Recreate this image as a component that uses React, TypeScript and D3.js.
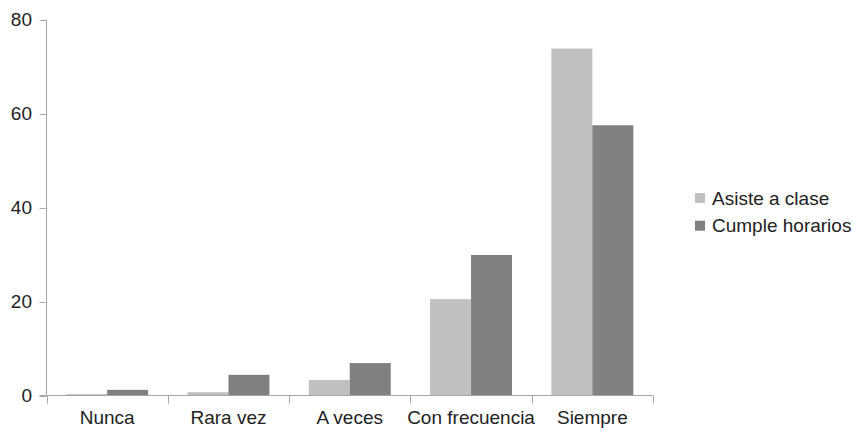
import React, { useEffect, useRef } from "react";
import * as d3 from "d3";

const categories = ["Nunca", "Rara vez", "A veces", "Con frecuencia", "Siempre"];
const seriesNames = ["Asiste a clase", "Cumple horarios"];
const asiste = [0.3, 0.7, 3.3, 20.5, 73.8];
const cumple = [1.2, 4.4, 6.9, 29.9, 57.5];
const yTicks = [0, 20, 40, 60, 80];
const colors = ["#c0c0c0", "#808080"];

export default function App() {
  const ref = useRef<SVGSVGElement>(null);
  useEffect(() => {
    const svg = d3.select(ref.current);
    svg.selectAll("*").remove();
    const left = 46.5, right = 653, top = 19.5, bottom = 395.5;
    const x = d3.scaleBand<string>().domain(categories).range([left, right]).paddingInner(0).paddingOuter(0);
    const y = d3.scaleLinear().domain([0, 80]).range([bottom, top]);
    const inner = d3.scaleBand<number>().domain([0, 1]).range([0, x.bandwidth()]).paddingOuter(0.48).paddingInner(0);
    const axisColor = "#a6a6a6";
    const font = "'Liberation Sans', Arial, sans-serif";
    const fs = 19;
    const series = [asiste, cumple];

    series.forEach((vals, si) => {
      svg.append("g").selectAll("rect").data(vals).join("rect")
        .attr("x", (_d, i) => (x(categories[i]) as number) + (inner(si) as number))
        .attr("width", inner.bandwidth())
        .attr("y", (d) => y(d))
        .attr("height", (d) => bottom - y(d))
        .attr("fill", colors[si]);
    });

    // y axis
    svg.append("line").attr("x1", left).attr("x2", left).attr("y1", top).attr("y2", bottom)
      .attr("stroke", axisColor).attr("stroke-width", 1);
    yTicks.forEach((t) => {
      svg.append("line").attr("x1", left - 7).attr("x2", left).attr("y1", Math.round(y(t)) + 0.5).attr("y2", Math.round(y(t)) + 0.5)
        .attr("stroke", axisColor);
      svg.append("text").attr("x", 32).attr("y", y(t)).attr("dy", "0.35em")
        .attr("text-anchor", "end").attr("font-family", font).attr("font-size", fs).attr("fill", "#222")
        .text(String(t));
    });
    // x axis
    svg.append("line").attr("x1", left - 7).attr("x2", right).attr("y1", bottom).attr("y2", bottom)
      .attr("stroke", axisColor);
    const boundaries = categories.map((c) => x(c) as number).concat([right]);
    boundaries.forEach((b) => {
      svg.append("line").attr("x1", Math.round(b) + 0.5).attr("x2", Math.round(b) + 0.5).attr("y1", bottom).attr("y2", bottom + 8)
        .attr("stroke", axisColor);
    });
    categories.forEach((c) => {
      svg.append("text").attr("x", (x(c) as number) + x.bandwidth() / 2).attr("y", 424)
        .attr("text-anchor", "middle").attr("font-family", font).attr("font-size", fs).attr("fill", "#222")
        .text(c);
    });

    // legend
    seriesNames.forEach((n, i) => {
      const ly = 198 + i * 27.7;
      svg.append("rect").attr("x", 695).attr("y", ly - 5).attr("width", 10).attr("height", 10).attr("fill", colors[i]);
      svg.append("text").attr("x", 712).attr("y", ly).attr("dy", "0.35em")
        .attr("font-family", font).attr("font-size", fs).attr("fill", "#222").text(n);
    });
  }, []);
  return (
    <svg ref={ref} width={853} height={428} style={{ position: "absolute", left: 0, top: 0, background: "#fff" }} />
  );
}
